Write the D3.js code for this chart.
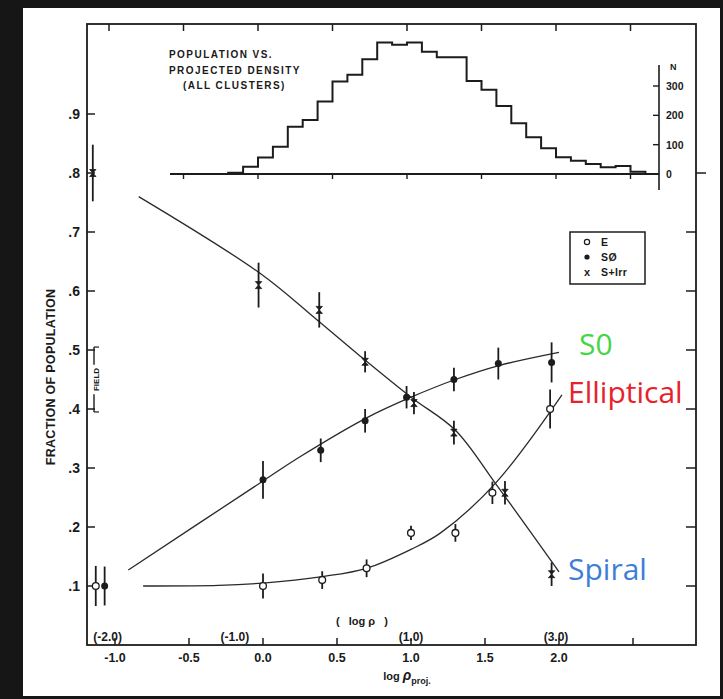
<!DOCTYPE html>
<html>
<head>
<meta charset="utf-8">
<script src="https://cdn.jsdelivr.net/npm/d3@7"></script>
<style>
  html, body { margin: 0; padding: 0; background: #161616; }
  svg { display: block; }
  .lab { font-family: "Liberation Sans", Arial, sans-serif; font-weight: bold; fill: #1a1a1a; }
  .ann { font-family: "Open Sans", sans-serif; }
</style>
</head>
<body>
<script>
// ---------------- DATA ----------------
// Main panel: fraction of population vs log projected density
const eX    = [0.00, 0.40, 0.70, 1.00, 1.30, 1.55, 1.94];
const eY    = [0.100, 0.110, 0.130, 0.190, 0.190, 0.258, 0.400];
const eErr  = [0.021, 0.015, 0.015, 0.012, 0.015, 0.019, 0.033];

const s0X   = [0.00, 0.39, 0.69, 0.97, 1.29, 1.59, 1.95];
const s0Y   = [0.280, 0.330, 0.380, 0.420, 0.450, 0.477, 0.479];
const s0Err = [0.032, 0.020, 0.020, 0.019, 0.020, 0.027, 0.034];

const spX   = [-0.03, 0.38, 0.69, 1.02, 1.29, 1.635, 1.95];
const spY   = [0.610, 0.568, 0.480, 0.410, 0.360, 0.258, 0.120];
const spErr = [0.038, 0.030, 0.018, 0.019, 0.020, 0.020, 0.020];

// Field values (plotted at the left edge)
const fieldType = ["Sp", "E", "S0"];
const fieldX    = [-1.15, -1.13, -1.07];
const fieldY    = [0.800, 0.100, 0.100];
const fieldErr  = [0.048, 0.034, 0.033];

// Hand-drawn fit curves
const eCurveX  = [-0.81, -0.30, 0.00, 0.40, 0.70, 1.00, 1.20, 1.57, 2.02];
const eCurveY  = [0.100, 0.101, 0.105, 0.116, 0.130, 0.162, 0.190, 0.274, 0.424];
const s0CurveX = [-0.91, 0.00, 0.25, 0.70, 1.00, 1.30, 1.60, 2.00];
const s0CurveY = [0.127, 0.278, 0.319, 0.385, 0.420, 0.450, 0.474, 0.496];
const spCurveX = [-0.84, -0.02, 0.37, 0.655, 1.00, 1.30, 1.57, 2.00];
const spCurveY = [0.760, 0.630, 0.550, 0.490, 0.420, 0.364, 0.274, 0.124];

// Axis ticks
const xTickVals   = [-1.0, -0.5, 0.0, 0.5, 1.0, 1.5, 2.0, 2.5];
const xTickLabels = ["-1.0", "-0.5", "0.0", "0.5", "1.0", "1.5", "2.0"];
const yTickVals   = [0.1, 0.2, 0.3, 0.4, 0.5, 0.6, 0.7, 0.8, 0.9];
const yTickLabels = [".1", ".2", ".3", ".4", ".5", ".6", ".7", ".8", ".9"];
const rhoLabels   = ["(-2.0)", "(-1.0)", "(1.0)", "(3.0)"];
const rhoPos      = [-1.05, -0.19, 1.00, 1.98];

// Inset histogram: population vs projected density
const histEdges  = [-0.2, -0.1, 0.0, 0.1, 0.2, 0.3, 0.4, 0.5, 0.6, 0.7, 0.8, 0.9, 1.0, 1.1,
                    1.2, 1.3, 1.4, 1.5, 1.6, 1.7, 1.8, 1.9, 2.0, 2.1, 2.2, 2.3, 2.4, 2.5, 2.6];
const histCounts = [4, 25, 56, 93, 161, 184, 247, 315, 338, 391, 448, 441, 448, 417,
                    398, 398, 317, 287, 232, 173, 125, 88, 57, 45, 34, 23, 27, 8];
const histTicks  = [-0.5, 0.0, 0.5, 1.0, 1.5, 2.0, 2.5];
const nTicks     = [0, 100, 200, 300];
const histTitle  = ["POPULATION VS.", "PROJECTED DENSITY", "(ALL CLUSTERS)"];

const legendLabels = ["E", "SØ", "S+Irr"];
const annLabels = ["S0", "Elliptical", "Spiral"];
const annColors = ["#45d646", "#e8222b", "#3d7fd6"];

// ---------------- DRAW ----------------
const W = 723, H = 699;
const svg = d3.select("body").append("svg").attr("width", W).attr("height", H);
svg.append("rect").attr("x", 0).attr("y", 0).attr("width", W).attr("height", H).attr("fill", "#161616");
svg.append("rect").attr("x", 23).attr("y", 8).attr("width", 697).attr("height", 688).attr("fill", "#ffffff");

const ink = "#1c1c1c";
const x = d3.scaleLinear().domain([-1, 2]).range([115, 559]);
const y = d3.scaleLinear().domain([0, 1]).range([645, 55]);
const frame = { l: 87, r: 696, t: 24, b: 645 };

// frame
svg.append("rect").attr("x", frame.l).attr("y", frame.t)
  .attr("width", frame.r - frame.l).attr("height", frame.b - frame.t)
  .attr("fill", "none").attr("stroke", ink).attr("stroke-width", 1.8);

// bottom axis ticks + labels
const gx = svg.append("g");
gx.selectAll("line.bt").data(xTickVals).join("line")
  .attr("x1", d => x(d)).attr("x2", d => x(d)).attr("y1", frame.b).attr("y2", frame.b - 7)
  .attr("stroke", ink).attr("stroke-width", 1.5);
gx.selectAll("text.xl").data(xTickLabels).join("text").attr("class", "lab")
  .attr("x", d => x(+d)).attr("y", 662).attr("text-anchor", "middle")
  .style("font-size", "12.5px").text(d => d);
gx.selectAll("text.rl").data(rhoLabels).join("text").attr("class", "lab")
  .attr("x", (d, i) => x(rhoPos[i])).attr("y", 641).attr("text-anchor", "middle")
  .style("font-size", "12px").text(d => d);
svg.append("text").attr("class", "lab").attr("x", 362).attr("y", 625)
  .attr("text-anchor", "middle").style("font-size", "11px")
  .attr("xml:space", "preserve").text("(   log ρ   )");
const xl = svg.append("text").attr("class", "lab").attr("x", 407).attr("y", 680)
  .attr("text-anchor", "middle").style("font-size", "11px");
xl.append("tspan").text("log ");
xl.append("tspan").style("font-size", "14px").style("font-style", "italic").text("ρ");
xl.append("tspan").attr("dy", 4).style("font-size", "9px").text("proj.");

// top frame ticks (slightly offset, same as inset scale)
const hx = d3.scaleLinear().domain([-1, 2.5]).range([109, 630.5]);
const hy = d3.scaleLinear().domain([0, 300]).range([174, 86]);
svg.append("g").selectAll("line").data(xTickVals).join("line")
  .attr("x1", d => hx(d)).attr("x2", d => hx(d)).attr("y1", frame.t).attr("y2", frame.t + 7)
  .attr("stroke", ink).attr("stroke-width", 1.5);

// left axis ticks + labels
const gy = svg.append("g");
gy.selectAll("line").data(yTickVals).join("line")
  .attr("x1", frame.l).attr("x2", frame.l + 8).attr("y1", d => y(d)).attr("y2", d => y(d))
  .attr("stroke", ink).attr("stroke-width", 1.5);
gy.selectAll("text").data(yTickLabels).join("text").attr("class", "lab")
  .attr("x", 80).attr("y", (d, i) => y(yTickVals[i]) + 5).attr("text-anchor", "end")
  .style("font-size", "14px").text(d => d);
// right frame ticks
svg.append("g").selectAll("line").data(yTickVals.filter(v => v < 0.75)).join("line")
  .attr("x1", frame.r).attr("x2", frame.r - 10).attr("y1", d => y(d)).attr("y2", d => y(d))
  .attr("stroke", ink).attr("stroke-width", 1.5);
svg.append("line").attr("x1", frame.r).attr("x2", frame.r + 10)
  .attr("y1", y(0.8)).attr("y2", y(0.8)).attr("stroke", ink).attr("stroke-width", 1.5);

// y axis title
svg.append("text").attr("class", "lab")
  .attr("transform", "translate(55,377) rotate(-90)").attr("text-anchor", "middle")
  .style("font-size", "12.5px").style("letter-spacing", "0.3px").text("FRACTION OF POPULATION");

// FIELD bracket
const fb = svg.append("g");
fb.append("line").attr("x1", 94).attr("x2", 94).attr("y1", y(0.505)).attr("y2", y(0.395))
  .attr("stroke", ink).attr("stroke-width", 1.4);
fb.append("line").attr("x1", 94).attr("x2", 99).attr("y1", y(0.505)).attr("y2", y(0.505))
  .attr("stroke", ink).attr("stroke-width", 1.2);
fb.append("line").attr("x1", 94).attr("x2", 99).attr("y1", y(0.395)).attr("y2", y(0.395))
  .attr("stroke", ink).attr("stroke-width", 1.2);
fb.append("rect").attr("x", 90).attr("y", y(0.475)).attr("width", 10).attr("height", y(0.425) - y(0.475))
  .attr("fill", "#fff");
fb.append("text").attr("class", "lab").attr("transform", `translate(98.5,${y(0.45)}) rotate(-90)`)
  .attr("text-anchor", "middle").style("font-size", "8px").text("FIELD");

// ---------- inset histogram ----------
const hg = svg.append("g");
hg.append("line").attr("x1", 170).attr("x2", 659).attr("y1", hy(0)).attr("y2", hy(0))
  .attr("stroke", ink).attr("stroke-width", 1.8);
hg.selectAll("line.ht").data(histTicks).join("line")
  .attr("x1", d => hx(d)).attr("x2", d => hx(d)).attr("y1", hy(0)).attr("y2", hy(0) + 5)
  .attr("stroke", ink).attr("stroke-width", 1.4);
const stepPts = histCounts.map((c, i) => [histEdges[i], c]);
stepPts.push([histEdges[histEdges.length - 1], 0]);
hg.append("path").datum([[histEdges[0], 0]].concat(stepPts))
  .attr("d", d3.line().x(d => hx(d[0])).y(d => hy(d[1])).curve(d3.curveStepAfter))
  .attr("fill", "none").attr("stroke", ink).attr("stroke-width", 2);
// N axis
hg.append("line").attr("x1", 659).attr("x2", 659).attr("y1", 65).attr("y2", 190)
  .attr("stroke", ink).attr("stroke-width", 1.6);
hg.selectAll("line.nt").data(nTicks).join("line")
  .attr("x1", 653).attr("x2", 659).attr("y1", d => hy(d)).attr("y2", d => hy(d))
  .attr("stroke", ink).attr("stroke-width", 1.4);
hg.selectAll("text.nl").data(nTicks).join("text").attr("class", "lab")
  .attr("x", 666).attr("y", d => hy(d) + 4).style("font-size", "10.5px").text(d => d);
hg.append("text").attr("class", "lab").attr("x", 670).attr("y", 70).style("font-size", "9px").text("N");
// title
hg.selectAll("text.tt").data(histTitle).join("text").attr("class", "lab")
  .attr("x", (d, i) => i === 2 ? 183 : 169).attr("y", (d, i) => 58 + i * 15.5)
  .style("font-size", "10px").style("letter-spacing", "1.45px").text(d => d);

// ---------- curves ----------
const curve = d3.line().x(d => x(d[0])).y(d => y(d[1])).curve(d3.curveCatmullRom.alpha(0.5));
[[eCurveX, eCurveY], [s0CurveX, s0CurveY], [spCurveX, spCurveY]].forEach(([cx, cy]) => {
  svg.append("path").datum(cx.map((v, i) => [v, cy[i]])).attr("d", curve)
    .attr("fill", "none").attr("stroke", "#2a2a2a").attr("stroke-width", 1.3);
});

// ---------- points ----------
function drawMarker(g, type, px, py) {
  if (type === "E") {
    g.append("circle").attr("cx", px).attr("cy", py).attr("r", 3.4)
      .attr("fill", "#fff").attr("stroke", ink).attr("stroke-width", 1.3);
  } else if (type === "S0") {
    g.append("circle").attr("cx", px).attr("cy", py).attr("r", 3.5).attr("fill", ink);
  } else {
    g.append("path").attr("d", `M${px - 3.2},${py - 3.5}L${px + 3.2},${py - 3.5}L${px - 3.2},${py + 3.5}L${px + 3.2},${py + 3.5}Z`)
      .attr("fill", ink).attr("stroke", ink).attr("stroke-width", 0.8);
  }
}
function drawSeries(type, xs, ys, es) {
  const g = svg.append("g");
  xs.forEach((v, i) => {
    g.append("line").attr("x1", x(v)).attr("x2", x(v))
      .attr("y1", y(ys[i] + es[i])).attr("y2", y(ys[i] - es[i]))
      .attr("stroke", ink).attr("stroke-width", 1.8);
    drawMarker(g, type, x(v), y(ys[i]));
  });
}
drawSeries("E", eX, eY, eErr);
drawSeries("S0", s0X, s0Y, s0Err);
drawSeries("Sp", spX, spY, spErr);
fieldType.forEach((t, i) => drawSeries(t, [fieldX[i]], [fieldY[i]], [fieldErr[i]]));

// ---------- legend ----------
const lg = svg.append("g");
lg.append("rect").attr("x", 570).attr("y", 232).attr("width", 75).attr("height", 52)
  .attr("fill", "#fff").attr("stroke", ink).attr("stroke-width", 1.5);
const legTypes = ["E", "S0", "Sp"];
legendLabels.forEach((lbl, i) => {
  const ly = 242 + i * 15;
  if (legTypes[i] === "E") {
    lg.append("circle").attr("cx", 587).attr("cy", ly).attr("r", 2.6).attr("fill", "#fff").attr("stroke", ink).attr("stroke-width", 1.2);
  } else if (legTypes[i] === "S0") {
    lg.append("circle").attr("cx", 587).attr("cy", ly).attr("r", 2.6).attr("fill", ink);
  } else {
    lg.append("text").attr("class", "lab").attr("x", 587).attr("y", ly + 3.5).attr("text-anchor", "middle")
      .style("font-size", "11px").text("x");
  }
  lg.append("text").attr("class", "lab").attr("x", 601).attr("y", ly + 4)
    .style("font-size", "10.5px").style("letter-spacing", "0.4px").text(lbl);
});

// ---------- coloured annotations ----------
const annX = [579, 568, 568];
const annY = [355, 403, 580];
svg.selectAll("text.ann").data(annLabels).join("text").attr("class", "ann")
  .attr("x", (d, i) => annX[i]).attr("y", (d, i) => annY[i])
  .style("font-size", "30px").attr("fill", (d, i) => annColors[i]).text(d => d);
</script>
</body>
</html>
